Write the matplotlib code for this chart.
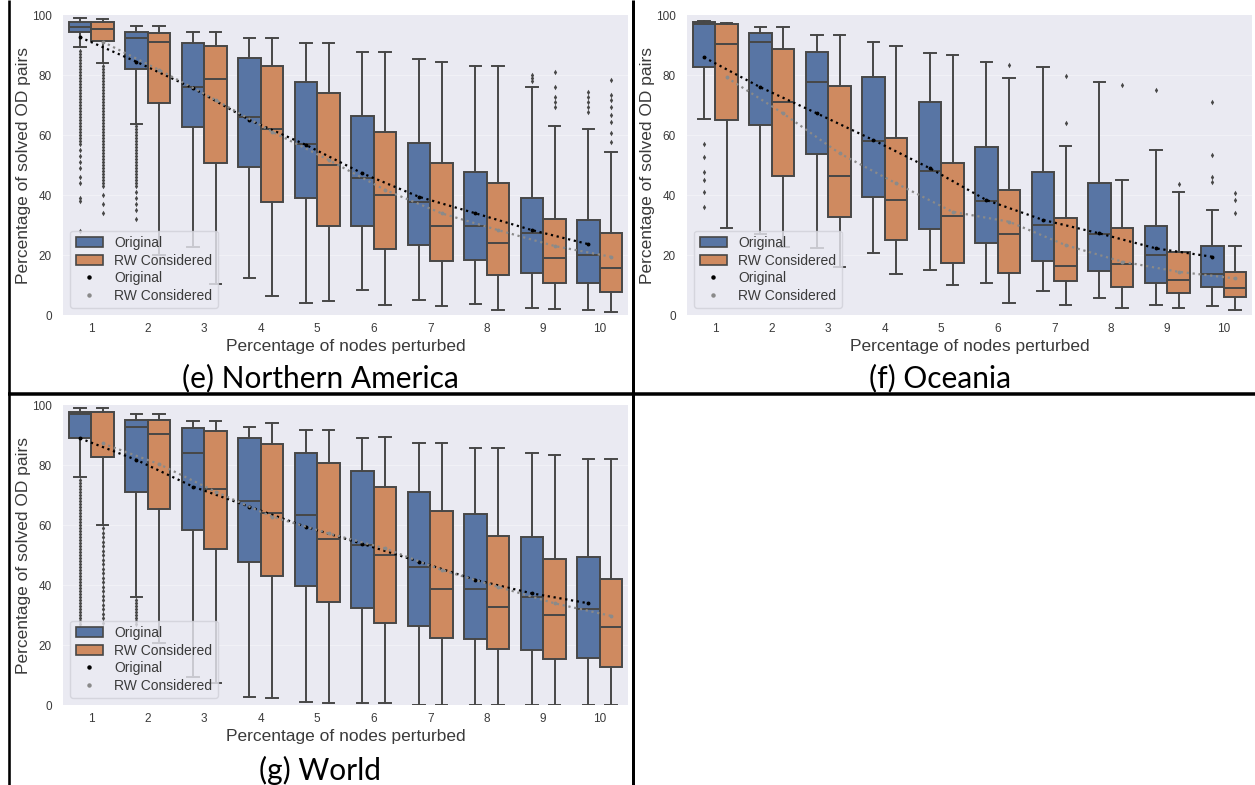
import matplotlib
matplotlib.use("Agg")
import matplotlib.pyplot as plt
from matplotlib.lines import Line2D
from matplotlib.patches import Patch

# ---------------------------------------------------------------- data
PERTURBED = [str(i) for i in range(1, 11)]
SERIES = ["Original", "RW Considered"]
Y_TICKS = [0, 20, 40, 60, 80, 100]

# (e) Northern America
na_orig_low = [89.4, 63.7, 22.8, 12.2, 4.0, 8.3, 5.0, 3.7, 2.2, 1.7]
na_orig_q1 = [94.2, 82.0, 62.8, 49.4, 38.9, 29.7, 23.3, 18.3, 14.1, 10.8]
na_orig_med = [96.0, 92.4, 76.0, 66.0, 57.0, 45.6, 37.8, 29.7, 27.4, 20.0]
na_orig_q3 = [97.8, 94.4, 90.6, 85.8, 77.8, 66.3, 57.2, 47.8, 38.9, 31.7]
na_orig_high = [98.9, 96.4, 94.2, 92.2, 90.6, 87.8, 85.2, 83.0, 75.9, 62.0]
na_orig_fliers = [
    [88, 87, 86, 85, 84, 83, 82, 81, 80, 79, 78, 77, 76, 75, 74, 73, 72, 71,
     70, 69, 68, 67, 66, 65, 64, 63, 62, 61, 60, 59, 58, 57, 55, 53, 51, 49,
     46, 44, 39, 38, 28],
    [63, 62, 61, 60, 59, 58, 57, 56, 55, 54, 53, 52, 51, 50, 49, 48, 47, 46,
     45, 44, 43, 41, 39, 37, 35, 32],
    [], [], [], [], [], [],
    [80.0, 79.0, 78.0],
    [74.4, 72.8, 71.0, 69.4, 67.8],
]
na_orig_mean = [92.6, 84.4, 75.6, 65.0, 56.7, 47.2, 39.4, 33.9, 28.3, 23.6]

na_rw_low = [83.9, 20.0, 10.2, 6.3, 4.8, 3.3, 3.0, 1.7, 2.0, 0.9]
na_rw_q1 = [91.4, 70.6, 50.8, 37.6, 29.7, 22.0, 18.0, 13.3, 10.6, 7.6]
na_rw_med = [95.5, 91.1, 78.7, 62.0, 50.0, 40.0, 29.7, 24.0, 18.9, 15.6]
na_rw_q3 = [97.8, 93.9, 89.8, 83.1, 73.9, 61.1, 50.6, 44.1, 32.0, 27.2]
na_rw_high = [98.6, 96.4, 94.2, 92.4, 90.6, 87.8, 84.4, 83.0, 63.0, 54.2]
na_rw_fliers = [
    [83, 82, 81, 80, 79, 78, 77, 76, 75, 74, 73, 72, 71, 70, 69, 68, 67, 66,
     65, 64, 63, 62, 61, 60, 59, 58, 57, 56, 55, 54, 53, 52, 51, 50, 49, 48,
     47, 46, 45, 44, 43, 40, 37, 34],
    [], [], [], [], [], [], [],
    [81.1, 76.1, 72.8, 71.1, 69.4],
    [78.3, 73.3, 71.7, 69.4, 66.7, 64.4, 60.6, 57.8],
]
na_rw_mean = [91.1, 81.7, 71.7, 61.1, 51.7, 41.7, 33.9, 28.3, 23.0, 19.4]

# (f) Oceania
oc_orig_low = [65.2, 27.0, 22.2, 20.6, 15.0, 10.8, 8.1, 5.6, 3.3, 3.0]
oc_orig_q1 = [82.8, 63.3, 53.6, 39.4, 28.6, 23.9, 18.0, 14.8, 10.6, 9.4]
oc_orig_med = [97.0, 91.1, 77.8, 58.0, 48.0, 38.0, 30.0, 27.0, 20.0, 13.7]
oc_orig_q3 = [97.8, 93.9, 87.8, 79.2, 71.1, 55.9, 47.8, 43.9, 29.7, 23.0]
oc_orig_high = [98.1, 95.9, 93.3, 91.1, 87.2, 84.4, 82.8, 77.8, 55.0, 35.0]
oc_orig_fliers = [
    [57.0, 52.8, 47.8, 45.0, 41.1, 36.1],
    [], [], [], [], [], [], [],
    [75.0],
    [71.1, 53.3, 46.1, 44.4],
]
oc_orig_mean = [85.9, 75.9, 67.2, 58.3, 48.9, 38.3, 31.7, 27.2, 22.2, 19.4]

oc_rw_low = [28.9, 22.8, 16.1, 13.6, 10.0, 4.1, 3.3, 2.2, 2.2, 1.7]
oc_rw_q1 = [65.0, 46.3, 32.6, 25.0, 17.2, 13.9, 11.3, 9.4, 7.2, 6.1]
oc_rw_med = [90.3, 70.9, 46.3, 38.3, 33.0, 27.0, 16.3, 17.0, 11.7, 8.9]
oc_rw_q3 = [97.0, 88.6, 76.4, 58.9, 50.6, 41.7, 32.2, 28.9, 21.1, 14.4]
oc_rw_high = [97.4, 95.9, 93.3, 89.7, 86.7, 78.9, 56.3, 45.0, 40.9, 23.0]
oc_rw_fliers = [
    [], [], [], [], [],
    [83.3],
    [79.7, 63.9],
    [76.7],
    [43.6],
    [40.8, 38.3, 33.9],
]
oc_rw_mean = [79.2, 67.2, 53.9, 43.9, 34.4, 31.1, 23.3, 17.8, 14.4, 12.2]

# (g) World
wo_orig_low = [76.0, 36.0, 9.4, 2.8, 1.1, 0.6, 0.0, 0.0, 0.0, 0.0]
wo_orig_q1 = [88.9, 71.1, 58.3, 47.8, 39.7, 32.2, 26.3, 21.9, 18.3, 15.8]
wo_orig_med = [97.0, 92.8, 84.1, 68.0, 63.3, 53.3, 46.0, 38.6, 36.0, 32.0]
wo_orig_q3 = [97.8, 95.0, 92.2, 88.9, 84.1, 78.1, 71.1, 63.6, 56.1, 49.4]
wo_orig_high = [98.9, 97.0, 94.8, 92.8, 91.7, 88.9, 87.4, 85.6, 83.9, 81.9]
wo_orig_fliers = [
    [75, 74, 73, 72, 71, 70, 69, 68, 67, 66, 65, 64, 63, 62, 61, 60, 59, 58,
     57, 56, 55, 54, 53, 52, 51, 50, 49, 48, 47, 46, 45, 44, 43, 42, 41, 40,
     39, 38, 37, 36, 35, 34, 33, 32, 31, 30, 29, 28, 27],
    [35, 34, 33, 32, 31, 30, 29, 28, 27],
    [], [], [], [], [], [], [], [],
]
wo_orig_mean = [88.9, 81.7, 72.8, 66.1, 59.4, 53.7, 47.8, 41.7, 37.2, 33.9]

wo_rw_low = [60.0, 20.6, 7.2, 2.2, 0.6, 0.6, 0.0, 0.0, 0.0, 0.0]
wo_rw_q1 = [82.6, 65.2, 51.9, 43.0, 34.4, 27.2, 22.2, 18.6, 15.2, 12.6]
wo_rw_med = [82.8, 90.2, 72.0, 64.0, 55.2, 50.0, 38.6, 32.6, 30.0, 26.0]
wo_rw_q3 = [97.8, 95.0, 91.4, 86.9, 80.6, 72.8, 64.8, 56.3, 48.6, 42.0]
wo_rw_high = [98.9, 97.0, 94.8, 93.9, 91.7, 89.2, 87.4, 85.6, 83.3, 81.9]
wo_rw_fliers = [
    [59, 57.5, 56, 54.5, 53, 51.5, 50, 48.5, 47, 45.5, 44, 42.5, 41, 39.5,
     38, 36.5, 35, 33.5, 32, 30.5, 29, 27.5],
    [], [], [], [], [], [], [], [], [],
]
wo_rw_mean = [87.2, 80.3, 71.1, 62.8, 57.2, 52.2, 45.0, 39.4, 33.9, 29.7]

# ---------------------------------------------------------------- style
W, H = 1255, 785
BG = "#eaeaf2"
BLUE = "#5875a4"
ORANGE = "#cf8a60"
EDGE = "#474747"
MEAN_GRAY = "#8a8a8a"
TEXT = "#3a3a3a"

plt.rcParams["font.family"] = ["Liberation Sans", "DejaVu Sans"]

fig = plt.figure(figsize=(W / 100, H / 100), dpi=100)


def px_axes(x0, y0, x1, y1):
    return fig.add_axes([x0 / W, 1 - y1 / H, (x1 - x0) / W, (y1 - y0) / H])


def box_stats(low, q1, med, q3, high, fliers):
    return [dict(whislo=a, q1=b, med=c, q3=d, whishi=e, fliers=f)
            for a, b, c, d, e, f in zip(low, q1, med, q3, high, fliers)]


def draw_panel(ax, orig, rw, orig_mean, rw_mean):
    ax.set_facecolor(BG)
    for s in ax.spines.values():
        s.set_visible(False)
    for y in Y_TICKS[1:-1]:
        ax.axhline(y, color="#f1f1f6", lw=0.8, zorder=0)

    n = len(PERTURBED)
    centers = list(range(n))
    half = 0.2
    common = dict(widths=0.4, patch_artist=True, manage_ticks=False,
                  medianprops=dict(color=EDGE, lw=1.4),
                  whiskerprops=dict(color=EDGE, lw=1.4),
                  capprops=dict(color=EDGE, lw=1.4),
                  flierprops=dict(marker="d", markersize=2.8,
                                  markerfacecolor=EDGE, markeredgecolor="none"))
    pos_o = [c - half for c in centers]
    pos_r = [c + half for c in centers]
    ax.bxp(box_stats(*orig), positions=pos_o,
           boxprops=dict(facecolor=BLUE, edgecolor=EDGE, lw=1.4), **common)
    ax.bxp(box_stats(*rw), positions=pos_r,
           boxprops=dict(facecolor=ORANGE, edgecolor=EDGE, lw=1.4), **common)

    # mean trends drawn as dotted point lines over the boxes
    ax.plot(pos_o, orig_mean, ls=":", lw=1.6, marker="o", ms=1.8,
            color="black", zorder=5)
    ax.plot(pos_r, rw_mean, ls=":", lw=1.6, marker="o", ms=1.8,
            color=MEAN_GRAY, zorder=5)

    ax.set_xlim(-0.5, n - 0.5)
    ax.set_ylim(0, 100)
    ax.set_xticks(centers)
    ax.set_xticklabels(PERTURBED)
    ax.set_yticks(Y_TICKS)
    ax.set_yticklabels([str(v) for v in Y_TICKS])
    ax.tick_params(length=0, labelsize=8.5, labelcolor=TEXT)
    ax.tick_params(axis="y", pad=8)
    ax.tick_params(axis="x", pad=6)
    ax.set_xlabel("Percentage of nodes perturbed", fontsize=12.5,
                  color=TEXT, labelpad=3)
    ax.set_ylabel("Percentage of solved OD pairs", fontsize=12.5,
                  color=TEXT, labelpad=1)

    handles = [
        Patch(facecolor=BLUE, edgecolor=EDGE, lw=1.2, label=SERIES[0]),
        Patch(facecolor=ORANGE, edgecolor=EDGE, lw=1.2, label=SERIES[1]),
        Line2D([], [], ls="none", marker="o", ms=2.2, color="black",
               label=SERIES[0]),
        Line2D([], [], ls="none", marker="o", ms=2.2, color=MEAN_GRAY,
               label=SERIES[1]),
    ]
    leg = ax.legend(handles=handles, loc="lower left", fontsize=10,
                    frameon=True, facecolor=BG, edgecolor="#d0d0d8",
                    framealpha=0.8, labelspacing=0.25, handlelength=2.0,
                    borderpad=0.4)
    for t in leg.get_texts():
        t.set_color(TEXT)


ax_e = px_axes(63, 15, 628, 315)
draw_panel(ax_e,
           (na_orig_low, na_orig_q1, na_orig_med, na_orig_q3, na_orig_high,
            na_orig_fliers),
           (na_rw_low, na_rw_q1, na_rw_med, na_rw_q3, na_rw_high,
            na_rw_fliers),
           na_orig_mean, na_rw_mean)

ax_f = px_axes(687, 15, 1252, 315)
draw_panel(ax_f,
           (oc_orig_low, oc_orig_q1, oc_orig_med, oc_orig_q3, oc_orig_high,
            oc_orig_fliers),
           (oc_rw_low, oc_rw_q1, oc_rw_med, oc_rw_q3, oc_rw_high,
            oc_rw_fliers),
           oc_orig_mean, oc_rw_mean)

ax_g = px_axes(63, 405, 628, 705)
draw_panel(ax_g,
           (wo_orig_low, wo_orig_q1, wo_orig_med, wo_orig_q3, wo_orig_high,
            wo_orig_fliers),
           (wo_rw_low, wo_rw_q1, wo_rw_med, wo_rw_q3, wo_rw_high,
            wo_rw_fliers),
           wo_orig_mean, wo_rw_mean)

# captions under each panel
CAPTION_FONT = ["Lato", "DejaVu Sans"]
fig.text(320 / W, 1 - 378 / H, "(e) Northern America", ha="center",
         va="center", fontsize=21.5, family=CAPTION_FONT)
fig.text(940 / W, 1 - 378 / H, "(f) Oceania", ha="center", va="center",
         fontsize=21.5, family=CAPTION_FONT)
fig.text(320 / W, 1 - 770 / H, "(g) World", ha="center", va="center",
         fontsize=21.5, family=CAPTION_FONT)


# table rules around the panels
def rule(x0, y0, x1, y1, lw_px):
    fig.add_artist(Line2D([x0 / W, x1 / W], [1 - y0 / H, 1 - y1 / H],
                          transform=fig.transFigure, color="black",
                          lw=lw_px * 0.72, solid_capstyle="butt"))


rule(8, 393.5, W, 393.5, 3.5)
rule(8.5, 0, 8.5, H, 2.6)
rule(632.5, 0, 632.5, H, 3)

fig.savefig("out.png", dpi=100)
